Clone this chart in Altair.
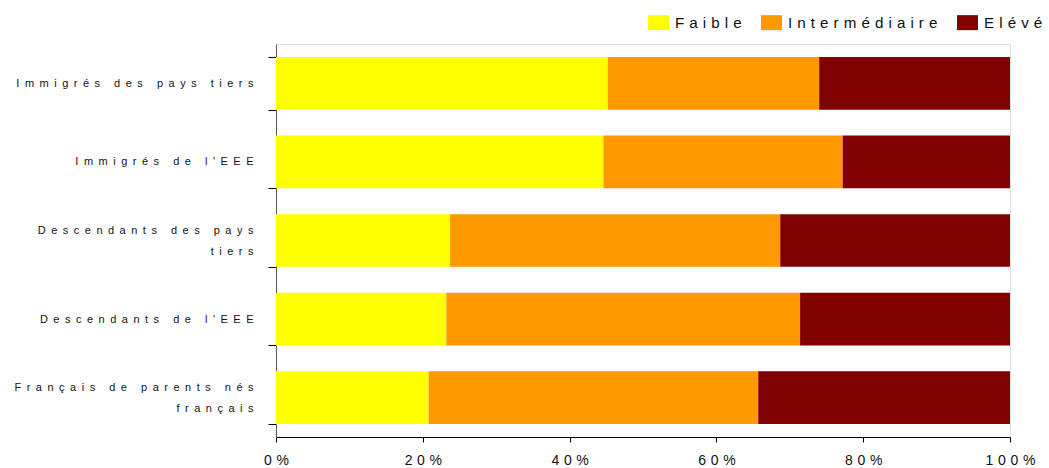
import json

import altair as alt
import pandas as pd

# Population groups, top to bottom
groups = [
    "Immigrés des pays tiers",
    "Immigrés de l'EEE",
    "Descendants des pays tiers",
    "Descendants de l'EEE",
    "Français de parents nés français",
]

# Education levels, stacked left to right
levels = ["Faible", "Intermédiaire", "Elévé"]
level_colors = ["#FFFF00", "#FF9900", "#800000"]

# Shares (%) per group
faible = [45.2, 44.6, 23.7, 23.2, 20.8]
intermediaire = [28.8, 32.6, 45.0, 48.2, 44.9]
eleve = [26.0, 22.8, 31.3, 28.6, 34.3]

# Line breaks for the longer group names
wrapped = {
    "Descendants des pays tiers": ["Descendants des pays", "tiers"],
    "Français de parents nés français": ["Français de parents nés", "français"],
}

series = [faible, intermediaire, eleve]
rows = []
for gi, g in enumerate(groups):
    for li, lvl in enumerate(levels):
        rows.append({"group": g, "level": lvl, "rank": li, "value": series[li][gi]})
df = pd.DataFrame(rows)

EN_SPACE = "\u2002"
THREE_PER_EM = "\u2004"
FONT = "Liberation Sans"
TEXT = "#111111"
LINE_HEIGHT = 21


def spaced(expr, sep):
    """Vega expression that spreads the characters of a string apart."""
    return f'join(split({expr}, ""), "{sep}")'


def lit(s):
    return json.dumps(s, ensure_ascii=False)


y_label_expr = ""
for name, lines in wrapped.items():
    arr = ", ".join(spaced(lit(line), EN_SPACE) for line in lines)
    y_label_expr += f"datum.label === {lit(name)} ? [{arr}] : "
y_label_expr += spaced("datum.label", EN_SPACE)

# two-line labels are lifted by half a line so the block sits on the band centre
is_wrapped = " || ".join(f"datum.value === {lit(name)}" for name in wrapped)

x_label_expr = spaced('format(datum.value, ".0%")', THREE_PER_EM)
legend_label_expr = spaced("datum.label", THREE_PER_EM)

chart = (
    alt.Chart(df)
    .mark_bar()
    .encode(
        x=alt.X(
            "value:Q",
            stack="normalize",
            scale=alt.Scale(domain=[0, 1], nice=False),
            axis=alt.Axis(
                title=None,
                values=[0, 0.2, 0.4, 0.6, 0.8, 1.0],
                grid=False,
                domainColor="#000000",
                domainWidth=1,
                tickColor="#000000",
                tickSize=5,
                labelFont=FONT,
                labelFontSize=14,
                labelColor=TEXT,
                labelPadding=11,
                labelExpr=x_label_expr,
                labelFlush=False,
                labelOverlap=False,
            ),
        ),
        y=alt.Y(
            "group:N",
            sort=groups,
            scale=alt.Scale(paddingInner=0.33, paddingOuter=0.165),
            axis=alt.Axis(
                title=None,
                tickBand="extent",
                domainColor="#5a5a5a",
                domainWidth=1,
                tickColor="#000000",
                tickSize=8,
                labelFont=FONT,
                labelFontSize=11,
                labelColor=TEXT,
                labelPadding=15,
                labelLimit=400,
                labelLineHeight=LINE_HEIGHT,
                labelOffset=alt.condition(
                    is_wrapped, alt.value(-LINE_HEIGHT / 2), alt.value(0)
                ),
                labelExpr=y_label_expr,
            ),
        ),
        color=alt.Color(
            "level:N",
            sort=levels,
            scale=alt.Scale(domain=levels, range=level_colors),
            legend=alt.Legend(
                title=None,
                orient="none",
                legendX=372,
                legendY=-32,
                direction="horizontal",
                padding=0,
                symbolType="M-1,-0.714H1V0.714H-1Z",
                symbolSize=441,
                symbolStrokeWidth=0,
                symbolOpacity=1,
                labelFont=FONT,
                labelFontSize=15.2,
                labelColor=TEXT,
                labelOffset=6,
                columnPadding=19,
                labelLimit=400,
                labelExpr=legend_label_expr,
            ),
        ),
        order=alt.Order("rank:Q"),
    )
    .properties(
        width=734,
        height=393,
        autosize=alt.AutoSizeParams(type="none"),
        padding={"left": 276, "top": 44, "right": 39, "bottom": 31},
    )
    .configure_view(strokeWidth=0)
    .configure(background="#ffffff")
)

chart.save("out.html", embed_options={"renderer": "svg", "actions": False})
